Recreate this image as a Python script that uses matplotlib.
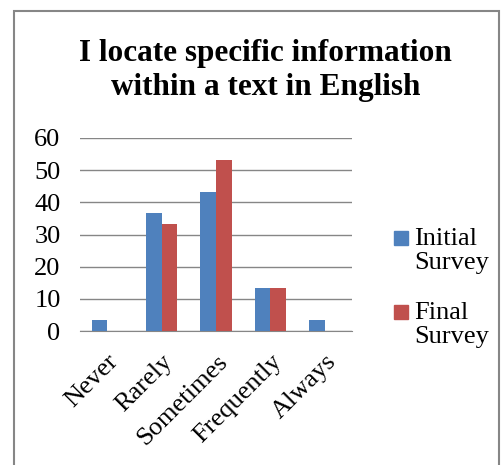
import numpy as np
import matplotlib.pyplot as plt
from matplotlib.patches import Rectangle

plt.rcParams['font.family'] = ['Liberation Serif', 'DejaVu Serif']

categories = ['Never', 'Rarely', 'Sometimes', 'Frequently', 'Always']
initial = [3.3, 36.7, 43.3, 13.3, 3.3]
final = [0, 33.3, 53.3, 13.3, 0]
series_names = ['Initial\nSurvey', 'Final\nSurvey']

blue = '#4F81BD'
red = '#C0504D'

W, H = 501, 465
fig = plt.figure(figsize=(W / 100, H / 100), dpi=100)
ax = fig.add_axes([80 / W, 1 - 331 / H, 272 / W, (331 - 138) / H])

x = np.arange(len(categories))
w = 1 / 3.5
ax.bar(x - w / 2, initial, w, color=blue, label=series_names[0], zorder=3)
ax.bar(x + w / 2, final, w, color=red, label=series_names[1], zorder=3)

ax.set_xlim(-0.5, len(categories) - 0.5)
ax.set_ylim(0, 60)
ax.set_yticks(range(0, 61, 10))
ax.yaxis.grid(True, color='#868686', linewidth=1, zorder=0)
ax.set_xticks(x)
ax.set_xticklabels(categories, rotation=45, ha='right', rotation_mode='anchor',
                   fontsize=19)
ax.tick_params(axis='y', labelsize=19, length=0, pad=14)
ax.tick_params(axis='x', length=0, pad=14)
for s in ['left', 'right', 'top']:
    ax.spines[s].set_visible(False)
ax.spines['bottom'].set_color('#868686')

fig.text(0.53, 1 - 39 / H, 'I locate specific information\nwithin a text in English',
         ha='center', va='top', fontsize=22.5, fontweight='bold', linespacing=1.25)

# legend: Excel-style, marker aligned with the first line of the label
for i, (name, col) in enumerate(zip(series_names, [blue, red])):
    top = 231 + i * 74
    fig.patches.append(Rectangle((394 / W, 1 - (top + 14) / H), 14 / W, 14 / H,
                                 transform=fig.transFigure, color=col))
    fig.text(414 / W, 1 - (top - 3) / H, name, ha='left', va='top',
             fontsize=19, linespacing=1.12)

# outer chart border
fig.patches.append(Rectangle((14 / W, -0.1), (499 - 14) / W, 1.1 - 11 / H,
                             transform=fig.transFigure, fill=False,
                             edgecolor='#868686', linewidth=1.5))

fig.savefig('out.png', dpi=100)
